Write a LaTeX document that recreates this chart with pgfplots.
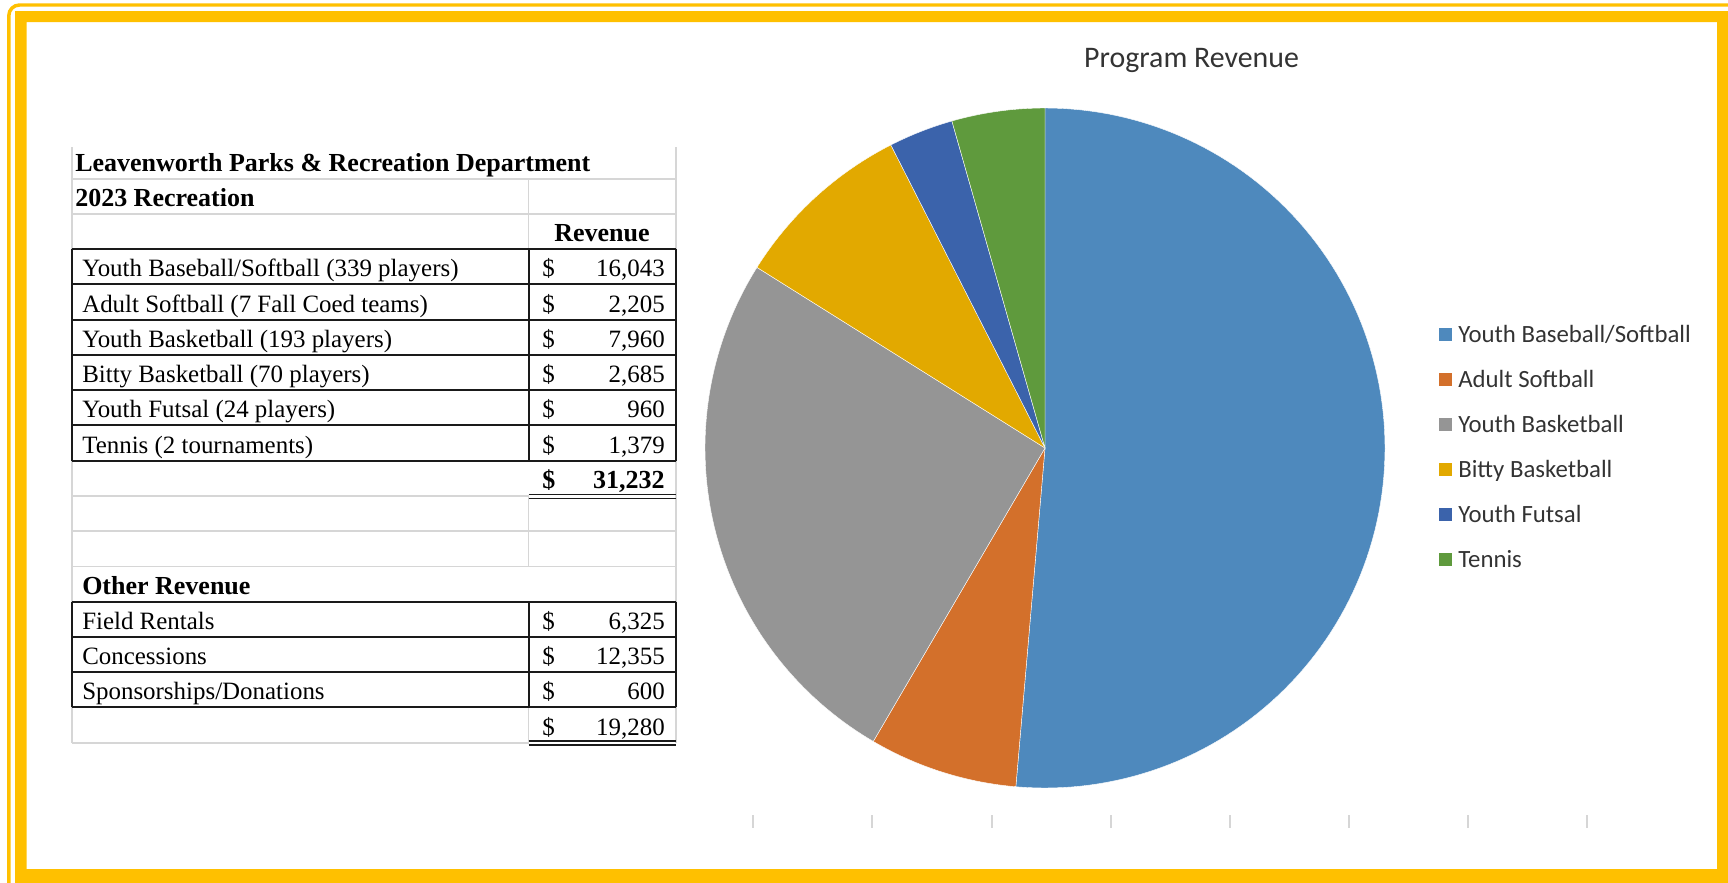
\documentclass[border=0pt]{standalone}
\usepackage{pgfplots}
\pgfplotsset{compat=1.18}
\usepackage{fontspec}
\setmainfont{Liberation Serif}
\newfontfamily\calfont{Carlito}
\definecolor{cA}{HTML}{4E89BD}
\definecolor{cB}{HTML}{D3702B}
\definecolor{cC}{HTML}{959595}
\definecolor{cD}{HTML}{E2A900}
\definecolor{cE}{HTML}{3B63AB}
\definecolor{cF}{HTML}{5F9A3D}
\definecolor{frame}{HTML}{FFC000}
\definecolor{grid}{HTML}{D6D6D6}
\definecolor{lgtext}{HTML}{333333}
\definecolor{tline}{HTML}{1A1A1A}
% program revenue values
\def\vA{16043}\def\vB{2205}\def\vC{7960}\def\vD{2685}\def\vE{960}\def\vF{1379}
\pgfmathsetmacro\tot{\vA/1000+\vB/1000+\vC/1000+\vD/1000+\vE/1000+\vF/1000}
\pgfmathsetmacro\aA{360*(\vA/1000)/\tot}
\pgfmathsetmacro\aB{\aA+360*(\vB/1000)/\tot}
\pgfmathsetmacro\aC{\aB+360*(\vC/1000)/\tot}
\pgfmathsetmacro\aD{\aC+360*(\vD/1000)/\tot}
\pgfmathsetmacro\aE{\aD+360*(\vE/1000)/\tot}
\def\aF{360}
\newcommand\tfont{\fontsize{18.7}{20}\selectfont}
\newcommand\bfont{\fontsize{19.5}{21}\selectfont\bfseries}
\newcommand\lfont{\calfont\fontsize{18.6}{20}\selectfont}
\begin{document}
\begin{tikzpicture}
\begin{axis}[at={(0,0)}, anchor=south west, scale only axis,
  width=1296pt, height=661.5pt, xmin=0, xmax=1728, ymin=0, ymax=882,
  y dir=reverse, hide axis, clip=false]
% frame
\fill[frame, even odd rule] (axis cs:15,11) rectangle (axis cs:1760,900)
  (axis cs:26.7,22) rectangle (axis cs:1717,869);
\draw[frame, line width=2.6pt, rounded corners=8pt] (axis cs:8.8,5) rectangle (axis cs:1780,920);
% pie
\def\cx{1045}\def\cy{448}\def\rr{340}
\addplot[fill=cA, draw=white, line width=0.3pt, domain=0:\aA, samples=120, variable=\t]
  ({\cx+\rr*sin(\t)},{\cy-\rr*cos(\t)}) -- (axis cs:\cx,\cy) -- cycle;
\addplot[fill=cB, draw=white, line width=0.3pt, domain=\aA:\aB, samples=30, variable=\t]
  ({\cx+\rr*sin(\t)},{\cy-\rr*cos(\t)}) -- (axis cs:\cx,\cy) -- cycle;
\addplot[fill=cC, draw=white, line width=0.3pt, domain=\aB:\aC, samples=80, variable=\t]
  ({\cx+\rr*sin(\t)},{\cy-\rr*cos(\t)}) -- (axis cs:\cx,\cy) -- cycle;
\addplot[fill=cD, draw=white, line width=0.3pt, domain=\aC:\aD, samples=30, variable=\t]
  ({\cx+\rr*sin(\t)},{\cy-\rr*cos(\t)}) -- (axis cs:\cx,\cy) -- cycle;
\addplot[fill=cE, draw=white, line width=0.3pt, domain=\aD:\aE, samples=15, variable=\t]
  ({\cx+\rr*sin(\t)},{\cy-\rr*cos(\t)}) -- (axis cs:\cx,\cy) -- cycle;
\addplot[fill=cF, draw=white, line width=0.3pt, domain=\aE:\aF, samples=20, variable=\t]
  ({\cx+\rr*sin(\t)},{\cy-\rr*cos(\t)}) -- (axis cs:\cx,\cy) -- cycle;
% title
\node[anchor=base, inner sep=0, text=lgtext, font=\calfont\fontsize{22.4}{24}\selectfont] at (axis cs:1191.5,67) {Program Revenue};
% legend
\fill[cA] (axis cs:1439.3,328.3) rectangle (axis cs:1452.3,340.7);
\fill[cB] (axis cs:1439.3,373.3) rectangle (axis cs:1452.3,385.7);
\fill[cC] (axis cs:1439.3,418.3) rectangle (axis cs:1452.3,430.7);
\fill[cD] (axis cs:1439.3,463.3) rectangle (axis cs:1452.3,475.7);
\fill[cE] (axis cs:1439.3,508.3) rectangle (axis cs:1452.3,520.7);
\fill[cF] (axis cs:1439.3,553.3) rectangle (axis cs:1452.3,565.7);
\node[anchor=base west, inner sep=0, text=lgtext, font=\lfont] at (axis cs:1458,342.7) {Youth Baseball/Softball};
\node[anchor=base west, inner sep=0, text=lgtext, font=\lfont] at (axis cs:1458,387.7) {Adult Softball};
\node[anchor=base west, inner sep=0, text=lgtext, font=\lfont] at (axis cs:1458,432.7) {Youth Basketball};
\node[anchor=base west, inner sep=0, text=lgtext, font=\lfont] at (axis cs:1458,477.7) {Bitty Basketball};
\node[anchor=base west, inner sep=0, text=lgtext, font=\lfont] at (axis cs:1458,522.7) {Youth Futsal};
\node[anchor=base west, inner sep=0, text=lgtext, font=\lfont] at (axis cs:1458,567.7) {Tennis};
% bottom tick marks
\pgfplotsinvokeforeach{753,872,992,1111,1230,1349,1468,1587}{
  \draw[grid, line width=1.2pt] (axis cs:#1,815) -- (axis cs:#1,828);
}
% ---------- table grid ----------
\def\TL{72}\def\TD{528.5}\def\TR{676}
\draw[grid, line width=1.4pt] (axis cs:\TL,147) -- (axis cs:\TL,743);
\draw[grid, line width=1.4pt] (axis cs:\TR,147) -- (axis cs:\TR,743);
\draw[grid, line width=1.4pt] (axis cs:\TD,178.7) -- (axis cs:\TD,249.2);
\draw[grid, line width=1.4pt] (axis cs:\TD,496) -- (axis cs:\TD,566.5);
\draw[grid, line width=1.4pt] (axis cs:\TD,707.5) -- (axis cs:\TD,743);
\draw[grid, line width=1.4pt] (axis cs:\TL,178.7) -- (axis cs:\TR,178.7);
\draw[grid, line width=1.4pt] (axis cs:\TL,214) -- (axis cs:\TR,214);
\draw[grid, line width=1.4pt] (axis cs:\TL,496) -- (axis cs:\TD,496);
\draw[grid, line width=1.4pt] (axis cs:\TL,531.2) -- (axis cs:\TR,531.2);
\draw[grid, line width=1.4pt] (axis cs:\TL,566.5) -- (axis cs:\TR,566.5);
\draw[grid, line width=1.4pt] (axis cs:\TL,742.7) -- (axis cs:\TD,742.7);
% black borders, program rows
\pgfplotsinvokeforeach{249.2,284.45,319.7,354.95,390.2,425.45,460.7}{
  \draw[tline, line width=1.5pt] (axis cs:\TL,#1) -- (axis cs:\TR,#1);
}
\pgfplotsinvokeforeach{72,528.5,676}{
  \draw[tline, line width=1.5pt] (axis cs:#1,249.2) -- (axis cs:#1,460.7);
}
\draw[tline, line width=1pt] (axis cs:\TD,494.3) -- (axis cs:\TR,494.3);
\draw[tline, line width=1pt] (axis cs:\TD,498.3) -- (axis cs:\TR,498.3);
% black borders, other revenue rows
\pgfplotsinvokeforeach{601.7,636.95,672.2,707.45}{
  \draw[tline, line width=1.5pt] (axis cs:\TL,#1) -- (axis cs:\TR,#1);
}
\pgfplotsinvokeforeach{72,528.5,676}{
  \draw[tline, line width=1.5pt] (axis cs:#1,601.7) -- (axis cs:#1,707.45);
}
\draw[tline, line width=1pt] (axis cs:\TD,741) -- (axis cs:\TR,741);
\draw[tline, line width=1pt] (axis cs:\TD,745) -- (axis cs:\TR,745);
% ---------- table text ----------
\node[anchor=base west, inner sep=0, font=\bfont] at (axis cs:75,171.2) {Leavenworth Parks \& Recreation Department};
\node[anchor=base west, inner sep=0, font=\bfont] at (axis cs:75,206.5) {2023 Recreation};
\node[anchor=base, inner sep=0, font=\bfont] at (axis cs:602,241.7) {Revenue};
\node[anchor=base west, inner sep=0, font=\tfont] at (axis cs:82,276.9) {Youth Baseball/Softball (339 players)};
\node[anchor=base west, inner sep=0, font=\tfont] at (axis cs:82,312.2) {Adult Softball (7 Fall Coed teams)};
\node[anchor=base west, inner sep=0, font=\tfont] at (axis cs:82,347.4) {Youth Basketball (193 players)};
\node[anchor=base west, inner sep=0, font=\tfont] at (axis cs:82,382.7) {Bitty Basketball (70 players)};
\node[anchor=base west, inner sep=0, font=\tfont] at (axis cs:82,417.9) {Youth Futsal (24 players)};
\node[anchor=base west, inner sep=0, font=\tfont] at (axis cs:82,453.2) {Tennis (2 tournaments)};
\pgfplotsinvokeforeach{276.9,312.2,347.4,382.7,417.9,453.2,629.4,664.7,699.9,735.2}{
  \node[anchor=base west, inner sep=0, font=\tfont] at (axis cs:542,#1) {\$};
}
\node[anchor=base east, inner sep=0, font=\tfont] at (axis cs:665,276.9) {16,043};
\node[anchor=base east, inner sep=0, font=\tfont] at (axis cs:665,312.2) {2,205};
\node[anchor=base east, inner sep=0, font=\tfont] at (axis cs:665,347.4) {7,960};
\node[anchor=base east, inner sep=0, font=\tfont] at (axis cs:665,382.7) {2,685};
\node[anchor=base east, inner sep=0, font=\tfont] at (axis cs:665,417.9) {960};
\node[anchor=base east, inner sep=0, font=\tfont] at (axis cs:665,453.2) {1,379};
\node[anchor=base west, inner sep=0, font=\bfont] at (axis cs:542,488.4) {\$};
\node[anchor=base east, inner sep=0, font=\bfont] at (axis cs:665,488.4) {31,232};
\node[anchor=base west, inner sep=0, font=\bfont] at (axis cs:82,594.2) {Other Revenue};
\node[anchor=base west, inner sep=0, font=\tfont] at (axis cs:82,629.4) {Field Rentals};
\node[anchor=base west, inner sep=0, font=\tfont] at (axis cs:82,664.7) {Concessions};
\node[anchor=base west, inner sep=0, font=\tfont] at (axis cs:82,699.9) {Sponsorships/Donations};
\node[anchor=base east, inner sep=0, font=\tfont] at (axis cs:665,629.4) {6,325};
\node[anchor=base east, inner sep=0, font=\tfont] at (axis cs:665,664.7) {12,355};
\node[anchor=base east, inner sep=0, font=\tfont] at (axis cs:665,699.9) {600};
\node[anchor=base east, inner sep=0, font=\tfont] at (axis cs:665,735.2) {19,280};
\end{axis}
\pgfresetboundingbox
\useasboundingbox (0,0) rectangle (1296pt,661.5pt);
\end{tikzpicture}
\end{document}
